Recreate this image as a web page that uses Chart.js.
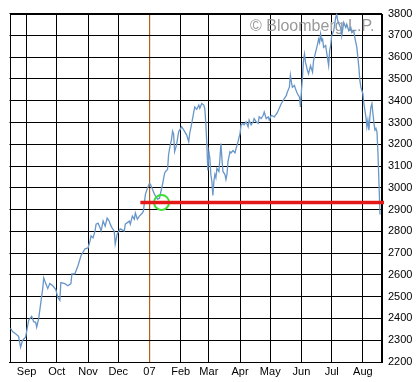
<!DOCTYPE html>
<html>
<head>
<meta charset="utf-8">
<script src="https://cdn.jsdelivr.net/npm/chart.js@4"></script>
<style>
  html, body { margin: 0; padding: 0; background: #fff; }
  canvas { display: block; }
</style>
</head>
<body>
<canvas id="pricechart" width="419" height="382"></canvas>
<script>
const dates = [
  '2006-08-16','2006-08-18','2006-08-21','2006-08-24','2006-08-26','2006-08-28','2006-08-31',
  '2006-09-03','2006-09-06','2006-09-08','2006-09-10','2006-09-11','2006-09-13','2006-09-15',
  '2006-09-17','2006-09-18','2006-09-20','2006-09-22','2006-09-24','2006-09-27','2006-09-30',
  '2006-10-02','2006-10-04','2006-10-05','2006-10-09','2006-10-12','2006-10-15','2006-10-16',
  '2006-10-19','2006-10-22','2006-10-25','2006-10-29',
  '2006-11-01','2006-11-03','2006-11-04','2006-11-06','2006-11-08','2006-11-09','2006-11-11',
  '2006-11-13','2006-11-14','2006-11-16','2006-11-18','2006-11-20','2006-11-22','2006-11-23',
  '2006-11-25','2006-11-27','2006-11-28','2006-11-30',
  '2006-12-03','2006-12-07','2006-12-08','2006-12-12','2006-12-13','2006-12-15','2006-12-17',
  '2006-12-18','2006-12-20','2006-12-22','2006-12-25','2006-12-26','2006-12-28','2006-12-30',
  '2007-01-01','2007-01-02','2007-01-04','2007-01-06','2007-01-09','2007-01-11','2007-01-12',
  '2007-01-14','2007-01-16','2007-01-17','2007-01-19','2007-01-20','2007-01-21','2007-01-23',
  '2007-01-24','2007-01-25','2007-01-26','2007-01-28','2007-01-30',
  '2007-02-02','2007-02-04','2007-02-07','2007-02-09','2007-02-10','2007-02-12','2007-02-14',
  '2007-02-15','2007-02-17','2007-02-19','2007-02-20','2007-02-22','2007-02-24','2007-02-25',
  '2007-02-26','2007-02-27','2007-02-28',
  '2007-03-01','2007-03-02','2007-03-03','2007-03-04','2007-03-05','2007-03-06','2007-03-07',
  '2007-03-08','2007-03-09','2007-03-11','2007-03-12','2007-03-13','2007-03-14','2007-03-15',
  '2007-03-17','2007-03-18','2007-03-19','2007-03-20','2007-03-22','2007-03-23','2007-03-25',
  '2007-03-27','2007-03-28','2007-03-30',
  '2007-04-01','2007-04-02','2007-04-04','2007-04-05','2007-04-07','2007-04-09','2007-04-10',
  '2007-04-12','2007-04-14','2007-04-15','2007-04-17','2007-04-19','2007-04-20','2007-04-22',
  '2007-04-24','2007-04-25','2007-04-27','2007-04-29','2007-04-30',
  '2007-05-02','2007-05-05','2007-05-08','2007-05-12','2007-05-15','2007-05-17','2007-05-18',
  '2007-05-20','2007-05-21','2007-05-22','2007-05-23','2007-05-25','2007-05-26','2007-05-28',
  '2007-05-30','2007-05-31',
  '2007-06-01','2007-06-02','2007-06-03','2007-06-04','2007-06-05','2007-06-07','2007-06-08',
  '2007-06-10','2007-06-12','2007-06-13','2007-06-15','2007-06-17','2007-06-18','2007-06-19',
  '2007-06-20','2007-06-21','2007-06-22','2007-06-23','2007-06-25','2007-06-27','2007-06-28',
  '2007-06-29','2007-06-30',
  '2007-07-01','2007-07-03','2007-07-05','2007-07-06','2007-07-07','2007-07-09','2007-07-10',
  '2007-07-11','2007-07-13','2007-07-15','2007-07-16','2007-07-18','2007-07-20','2007-07-21',
  '2007-07-23','2007-07-24','2007-07-26','2007-07-27','2007-07-28','2007-07-29','2007-07-30',
  '2007-08-01','2007-08-02','2007-08-03','2007-08-04','2007-08-05','2007-08-06','2007-08-07',
  '2007-08-08','2007-08-09','2007-08-10','2007-08-11','2007-08-12','2007-08-13','2007-08-14',
  '2007-08-15','2007-08-16','2007-08-17','2007-08-18'
];

const closes = [
  2355, 2340, 2330, 2318, 2268, 2300, 2314,
  2391, 2410, 2385, 2382, 2360, 2400, 2469,
  2537, 2587, 2560, 2537, 2560, 2550, 2533,
  2496, 2483, 2565, 2560, 2550, 2560, 2605,
  2605, 2642, 2688, 2720,
  2724, 2756, 2779, 2770, 2802, 2833, 2838,
  2815, 2802, 2847, 2824, 2861, 2847, 2833,
  2815, 2802, 2742, 2788,
  2811, 2802, 2833, 2847, 2833, 2870, 2856,
  2884, 2856, 2870, 2884, 2893, 2970, 2998,
  3020, 3016, 2993, 2970, 2948, 2952, 2975,
  3016, 3066, 3075, 3084, 3152, 3180, 3225,
  3260, 3248, 3166, 3198, 3257,
  3280, 3266, 3242, 3212, 3250, 3296, 3348,
  3371, 3360, 3380, 3365, 3387, 3380, 3362,
  3296, 3203, 3080,
  3166, 3136, 3061, 3030, 2965, 3030, 3061,
  3046, 3089, 3075, 3134, 3203, 3134, 3075,
  3061, 3038, 3061, 3120, 3166, 3160, 3171,
  3160, 3180, 3212,
  3250, 3289, 3296, 3289, 3303, 3280, 3311,
  3289, 3303, 3318, 3303, 3296, 3326, 3318,
  3333, 3348, 3318, 3326, 3311,
  3333, 3326, 3345, 3387, 3410, 3424, 3440,
  3462, 3516, 3485, 3462, 3470, 3455, 3432,
  3417, 3371,
  3447, 3508, 3584, 3614, 3576, 3538, 3523,
  3561, 3531, 3584, 3622, 3660, 3683, 3667,
  3706, 3676, 3683, 3645, 3653, 3592, 3561,
  3630, 3653,
  3698, 3721, 3782, 3797, 3767, 3744, 3735,
  3698, 3759, 3736, 3751, 3721, 3736, 3713,
  3720, 3690, 3645, 3599, 3554, 3493, 3462,
  3432, 3387, 3356, 3326, 3280, 3311, 3265,
  3326, 3371, 3387, 3341, 3296, 3265, 3273,
  3257, 3158, 3020, 2877
];

const monthStarts = ['2006-09-01','2006-10-01','2006-11-01','2006-12-01','2007-01-01','2007-02-01',
  '2007-03-01','2007-04-01','2007-05-01','2007-06-01','2007-07-01','2007-08-01'];
const monthLabels = ['Sep','Oct','Nov','Dec','07','Feb','Mar','Apr','May','Jun','Jul','Aug'];
const yearStart = '2007-01-01';

// horizontal support line and the circled crossing
const supportLevel = 2933;
const supportFrom = '2006-12-23';
const supportTo = '2007-08-22';
const circleDate = '2007-01-13';

const firstDay = '2006-08-15';
const lastDay = '2007-08-19';

const origin = Date.parse('2006-09-01');
const dayNum = s => Math.round((Date.parse(s) - origin) / 864e5);

const monthDays = monthStarts.map(dayNum);
const yearDay = dayNum(yearStart);

const FONT = '"Liberation Sans", Arial, sans-serif';

const frame = {
  id: 'frame',
  beforeDatasetsDraw(chart) {
    const { ctx, chartArea: a } = chart;
    ctx.save();
    ctx.strokeStyle = '#000';
    ctx.lineWidth = 1;
    ctx.strokeRect(Math.round(a.left) + 0.5, Math.round(a.top) + 0.5,
      Math.round(a.right - a.left), Math.round(a.bottom - a.top));
    ctx.font = '16px ' + FONT;
    ctx.fillStyle = '#999';
    ctx.textAlign = 'left';
    ctx.textBaseline = 'alphabetic';
    ctx.fillText('\u00A9 Bloomberg L.P.', 250, 31);
    ctx.restore();
  }
};

const ctx = document.getElementById('pricechart').getContext('2d');
const pricechart = new Chart(ctx, {
  type: 'line',
  data: {
    datasets: [
      {
        label: 'support',
        data: [
          { x: dayNum(supportFrom), y: supportLevel },
          { x: dayNum(supportTo), y: supportLevel }
        ],
        borderColor: 'rgb(228, 24, 24)',
        borderWidth: 3.5,
        pointRadius: 0,
        clip: false
      },
      {
        label: 'mark',
        data: [{ x: dayNum(circleDate), y: supportLevel }],
        showLine: false,
        pointStyle: 'circle',
        pointRadius: 7.5,
        pointBorderWidth: 2,
        pointBorderColor: 'rgb(60, 222, 50)',
        pointBackgroundColor: 'rgba(0,0,0,0)'
      },
      {
        label: 'close',
        data: dates.map((d, i) => ({ x: dayNum(d), y: closes[i] })),
        borderColor: 'rgb(104, 150, 200)',
        borderWidth: 1.3,
        pointRadius: 0,
        tension: 0
      }
    ]
  },
  options: {
    responsive: false,
    animation: false,
    layout: { padding: { left: 6, top: 11, right: 0, bottom: 0 } },
    plugins: {
      legend: { display: false },
      tooltip: { enabled: false }
    },
    scales: {
      x: {
        type: 'linear',
        min: dayNum(firstDay),
        max: dayNum(lastDay),
        afterBuildTicks: scale => { scale.ticks = monthDays.map(v => ({ value: v })); },
        afterFit: scale => { scale.height = 20; },
        grid: {
          color: c => (c.tick && c.tick.value === yearDay) ? '#b85e18' : '#000',
          lineWidth: c => (c.tick && c.tick.value === yearDay) ? 1.2 : 1,
          drawTicks: false
        },
        border: { display: true, color: '#000' },
        ticks: {
          autoSkip: false,
          maxRotation: 0,
          padding: 3,
          color: '#000',
          font: { family: FONT, size: 11 },
          callback: (v, i) => monthLabels[i]
        }
      },
      y: {
        position: 'right',
        min: 2200,
        max: 3800,
        afterFit: scale => { scale.width = 38; },
        grid: { color: '#000', lineWidth: 1, drawTicks: false },
        border: { display: true, color: '#000' },
        ticks: {
          stepSize: 100,
          padding: 7,
          color: '#000',
          font: { family: FONT, size: 11 },
          callback: v => String(v)
        }
      }
    }
  },
  plugins: [frame]
});
</script>
</body>
</html>
